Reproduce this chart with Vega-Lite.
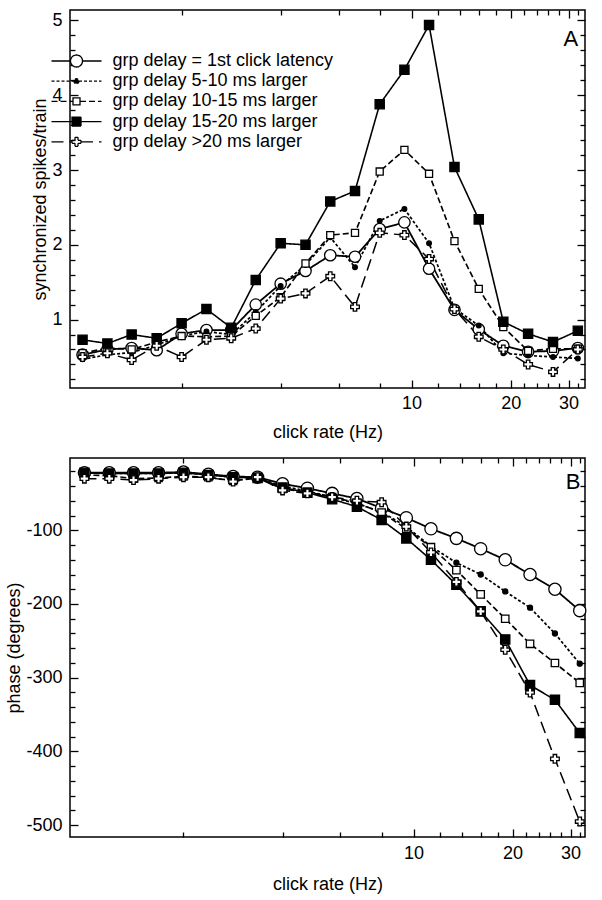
{
  "$schema": "https://vega.github.io/schema/vega-lite/v6.json",
  "padding": {"left": 5, "top": 8, "right": 16, "bottom": 2},
  "spacing": 14,
  "datasets": {
    "sync": [
      {"series":"grp delay = 1st click latency","rate":1,"value":0.53},{"series":"grp delay = 1st click latency","rate":1.19,"value":0.60},{"series":"grp delay = 1st click latency","rate":1.41,"value":0.62},{"series":"grp delay = 1st click latency","rate":1.68,"value":0.59},{"series":"grp delay = 1st click latency","rate":2,"value":0.81},{"series":"grp delay = 1st click latency","rate":2.38,"value":0.86},{"series":"grp delay = 1st click latency","rate":2.83,"value":0.86},{"series":"grp delay = 1st click latency","rate":3.36,"value":1.20},{"series":"grp delay = 1st click latency","rate":4,"value":1.48},{"series":"grp delay = 1st click latency","rate":4.76,"value":1.65},{"series":"grp delay = 1st click latency","rate":5.66,"value":1.86},{"series":"grp delay = 1st click latency","rate":6.73,"value":1.84},{"series":"grp delay = 1st click latency","rate":8,"value":2.21},{"series":"grp delay = 1st click latency","rate":9.51,"value":2.30},{"series":"grp delay = 1st click latency","rate":11.3,"value":1.68},{"series":"grp delay = 1st click latency","rate":13.5,"value":1.13},{"series":"grp delay = 1st click latency","rate":16,"value":0.87},{"series":"grp delay = 1st click latency","rate":19,"value":0.65},{"series":"grp delay = 1st click latency","rate":22.6,"value":0.57},{"series":"grp delay = 1st click latency","rate":26.9,"value":0.58},{"series":"grp delay = 1st click latency","rate":32,"value":0.62},
      {"series":"grp delay 5-10 ms larger","rate":1,"value":0.47},{"series":"grp delay 5-10 ms larger","rate":1.19,"value":0.53},{"series":"grp delay 5-10 ms larger","rate":1.41,"value":0.56},{"series":"grp delay 5-10 ms larger","rate":1.68,"value":0.66},{"series":"grp delay 5-10 ms larger","rate":2,"value":0.78},{"series":"grp delay 5-10 ms larger","rate":2.38,"value":0.84},{"series":"grp delay 5-10 ms larger","rate":2.83,"value":0.80},{"series":"grp delay 5-10 ms larger","rate":3.36,"value":1.10},{"series":"grp delay 5-10 ms larger","rate":4,"value":1.45},{"series":"grp delay 5-10 ms larger","rate":4.76,"value":1.73},{"series":"grp delay 5-10 ms larger","rate":5.66,"value":2.10},{"series":"grp delay 5-10 ms larger","rate":6.73,"value":1.70},{"series":"grp delay 5-10 ms larger","rate":8,"value":2.32},{"series":"grp delay 5-10 ms larger","rate":9.51,"value":2.48},{"series":"grp delay 5-10 ms larger","rate":11.3,"value":2.02},{"series":"grp delay 5-10 ms larger","rate":13.5,"value":1.15},{"series":"grp delay 5-10 ms larger","rate":16,"value":0.92},{"series":"grp delay 5-10 ms larger","rate":19,"value":0.55},{"series":"grp delay 5-10 ms larger","rate":22.6,"value":0.52},{"series":"grp delay 5-10 ms larger","rate":26.9,"value":0.50},{"series":"grp delay 5-10 ms larger","rate":32,"value":0.48},
      {"series":"grp delay 10-15 ms larger","rate":1,"value":0.55},{"series":"grp delay 10-15 ms larger","rate":1.19,"value":0.62},{"series":"grp delay 10-15 ms larger","rate":1.41,"value":0.60},{"series":"grp delay 10-15 ms larger","rate":1.68,"value":0.70},{"series":"grp delay 10-15 ms larger","rate":2,"value":0.78},{"series":"grp delay 10-15 ms larger","rate":2.38,"value":0.77},{"series":"grp delay 10-15 ms larger","rate":2.83,"value":0.78},{"series":"grp delay 10-15 ms larger","rate":3.36,"value":1.05},{"series":"grp delay 10-15 ms larger","rate":4,"value":1.30},{"series":"grp delay 10-15 ms larger","rate":4.76,"value":1.75},{"series":"grp delay 10-15 ms larger","rate":5.66,"value":2.13},{"series":"grp delay 10-15 ms larger","rate":6.73,"value":2.16},{"series":"grp delay 10-15 ms larger","rate":8,"value":2.98},{"series":"grp delay 10-15 ms larger","rate":9.51,"value":3.27},{"series":"grp delay 10-15 ms larger","rate":11.3,"value":2.95},{"series":"grp delay 10-15 ms larger","rate":13.5,"value":2.05},{"series":"grp delay 10-15 ms larger","rate":16,"value":1.41},{"series":"grp delay 10-15 ms larger","rate":19,"value":0.90},{"series":"grp delay 10-15 ms larger","rate":22.6,"value":0.58},{"series":"grp delay 10-15 ms larger","rate":26.9,"value":0.61},{"series":"grp delay 10-15 ms larger","rate":32,"value":0.61},
      {"series":"grp delay 15-20 ms larger","rate":1,"value":0.73},{"series":"grp delay 15-20 ms larger","rate":1.19,"value":0.68},{"series":"grp delay 15-20 ms larger","rate":1.41,"value":0.80},{"series":"grp delay 15-20 ms larger","rate":1.68,"value":0.75},{"series":"grp delay 15-20 ms larger","rate":2,"value":0.95},{"series":"grp delay 15-20 ms larger","rate":2.38,"value":1.14},{"series":"grp delay 15-20 ms larger","rate":2.83,"value":0.89},{"series":"grp delay 15-20 ms larger","rate":3.36,"value":1.53},{"series":"grp delay 15-20 ms larger","rate":4,"value":2.02},{"series":"grp delay 15-20 ms larger","rate":4.76,"value":2.00},{"series":"grp delay 15-20 ms larger","rate":5.66,"value":2.58},{"series":"grp delay 15-20 ms larger","rate":6.73,"value":2.72},{"series":"grp delay 15-20 ms larger","rate":8,"value":3.88},{"series":"grp delay 15-20 ms larger","rate":9.51,"value":4.34},{"series":"grp delay 15-20 ms larger","rate":11.3,"value":4.94},{"series":"grp delay 15-20 ms larger","rate":13.5,"value":3.04},{"series":"grp delay 15-20 ms larger","rate":16,"value":2.34},{"series":"grp delay 15-20 ms larger","rate":19,"value":0.97},{"series":"grp delay 15-20 ms larger","rate":22.6,"value":0.81},{"series":"grp delay 15-20 ms larger","rate":26.9,"value":0.70},{"series":"grp delay 15-20 ms larger","rate":32,"value":0.85},
      {"series":"grp delay >20 ms larger","rate":1,"value":0.50},{"series":"grp delay >20 ms larger","rate":1.19,"value":0.55},{"series":"grp delay >20 ms larger","rate":1.41,"value":0.46},{"series":"grp delay >20 ms larger","rate":1.68,"value":0.65},{"series":"grp delay >20 ms larger","rate":2,"value":0.50},{"series":"grp delay >20 ms larger","rate":2.38,"value":0.73},{"series":"grp delay >20 ms larger","rate":2.83,"value":0.75},{"series":"grp delay >20 ms larger","rate":3.36,"value":0.88},{"series":"grp delay >20 ms larger","rate":4,"value":1.28},{"series":"grp delay >20 ms larger","rate":4.76,"value":1.35},{"series":"grp delay >20 ms larger","rate":5.66,"value":1.58},{"series":"grp delay >20 ms larger","rate":6.73,"value":1.17},{"series":"grp delay >20 ms larger","rate":8,"value":2.16},{"series":"grp delay >20 ms larger","rate":9.51,"value":2.13},{"series":"grp delay >20 ms larger","rate":11.3,"value":1.81},{"series":"grp delay >20 ms larger","rate":13.5,"value":1.14},{"series":"grp delay >20 ms larger","rate":16,"value":0.77},{"series":"grp delay >20 ms larger","rate":19,"value":0.60},{"series":"grp delay >20 ms larger","rate":22.6,"value":0.40},{"series":"grp delay >20 ms larger","rate":26.9,"value":0.30},{"series":"grp delay >20 ms larger","rate":32,"value":0.60}
    ],
    "phase": [
      {"series":"grp delay = 1st click latency","rate":1,"value":-22},{"series":"grp delay = 1st click latency","rate":1.19,"value":-22},{"series":"grp delay = 1st click latency","rate":1.41,"value":-22},{"series":"grp delay = 1st click latency","rate":1.68,"value":-22},{"series":"grp delay = 1st click latency","rate":2,"value":-21},{"series":"grp delay = 1st click latency","rate":2.38,"value":-24},{"series":"grp delay = 1st click latency","rate":2.83,"value":-27},{"series":"grp delay = 1st click latency","rate":3.36,"value":-28},{"series":"grp delay = 1st click latency","rate":4,"value":-37},{"series":"grp delay = 1st click latency","rate":4.76,"value":-43},{"series":"grp delay = 1st click latency","rate":5.66,"value":-50},{"series":"grp delay = 1st click latency","rate":6.73,"value":-57},{"series":"grp delay = 1st click latency","rate":8,"value":-70},{"series":"grp delay = 1st click latency","rate":9.51,"value":-83},{"series":"grp delay = 1st click latency","rate":11.3,"value":-98},{"series":"grp delay = 1st click latency","rate":13.5,"value":-111},{"series":"grp delay = 1st click latency","rate":16,"value":-125},{"series":"grp delay = 1st click latency","rate":19,"value":-140},{"series":"grp delay = 1st click latency","rate":22.6,"value":-160},{"series":"grp delay = 1st click latency","rate":26.9,"value":-180},{"series":"grp delay = 1st click latency","rate":32,"value":-209},
      {"series":"grp delay 5-10 ms larger","rate":1,"value":-22},{"series":"grp delay 5-10 ms larger","rate":1.19,"value":-23},{"series":"grp delay 5-10 ms larger","rate":1.41,"value":-23},{"series":"grp delay 5-10 ms larger","rate":1.68,"value":-23},{"series":"grp delay 5-10 ms larger","rate":2,"value":-22},{"series":"grp delay 5-10 ms larger","rate":2.38,"value":-25},{"series":"grp delay 5-10 ms larger","rate":2.83,"value":-28},{"series":"grp delay 5-10 ms larger","rate":3.36,"value":-29},{"series":"grp delay 5-10 ms larger","rate":4,"value":-40},{"series":"grp delay 5-10 ms larger","rate":4.76,"value":-47},{"series":"grp delay 5-10 ms larger","rate":5.66,"value":-55},{"series":"grp delay 5-10 ms larger","rate":6.73,"value":-64},{"series":"grp delay 5-10 ms larger","rate":8,"value":-75},{"series":"grp delay 5-10 ms larger","rate":9.51,"value":-95},{"series":"grp delay 5-10 ms larger","rate":11.3,"value":-122},{"series":"grp delay 5-10 ms larger","rate":13.5,"value":-144},{"series":"grp delay 5-10 ms larger","rate":16,"value":-160},{"series":"grp delay 5-10 ms larger","rate":19,"value":-183},{"series":"grp delay 5-10 ms larger","rate":22.6,"value":-205},{"series":"grp delay 5-10 ms larger","rate":26.9,"value":-240},{"series":"grp delay 5-10 ms larger","rate":32,"value":-281},
      {"series":"grp delay 10-15 ms larger","rate":1,"value":-25},{"series":"grp delay 10-15 ms larger","rate":1.19,"value":-26},{"series":"grp delay 10-15 ms larger","rate":1.41,"value":-30},{"series":"grp delay 10-15 ms larger","rate":1.68,"value":-29},{"series":"grp delay 10-15 ms larger","rate":2,"value":-27},{"series":"grp delay 10-15 ms larger","rate":2.38,"value":-28},{"series":"grp delay 10-15 ms larger","rate":2.83,"value":-33},{"series":"grp delay 10-15 ms larger","rate":3.36,"value":-29},{"series":"grp delay 10-15 ms larger","rate":4,"value":-44},{"series":"grp delay 10-15 ms larger","rate":4.76,"value":-48},{"series":"grp delay 10-15 ms larger","rate":5.66,"value":-55},{"series":"grp delay 10-15 ms larger","rate":6.73,"value":-63},{"series":"grp delay 10-15 ms larger","rate":8,"value":-76},{"series":"grp delay 10-15 ms larger","rate":9.51,"value":-98},{"series":"grp delay 10-15 ms larger","rate":11.3,"value":-123},{"series":"grp delay 10-15 ms larger","rate":13.5,"value":-154},{"series":"grp delay 10-15 ms larger","rate":16,"value":-187},{"series":"grp delay 10-15 ms larger","rate":19,"value":-220},{"series":"grp delay 10-15 ms larger","rate":22.6,"value":-254},{"series":"grp delay 10-15 ms larger","rate":26.9,"value":-280},{"series":"grp delay 10-15 ms larger","rate":32,"value":-307},
      {"series":"grp delay 15-20 ms larger","rate":1,"value":-22},{"series":"grp delay 15-20 ms larger","rate":1.19,"value":-23},{"series":"grp delay 15-20 ms larger","rate":1.41,"value":-23},{"series":"grp delay 15-20 ms larger","rate":1.68,"value":-23},{"series":"grp delay 15-20 ms larger","rate":2,"value":-22},{"series":"grp delay 15-20 ms larger","rate":2.38,"value":-25},{"series":"grp delay 15-20 ms larger","rate":2.83,"value":-28},{"series":"grp delay 15-20 ms larger","rate":3.36,"value":-29},{"series":"grp delay 15-20 ms larger","rate":4,"value":-42},{"series":"grp delay 15-20 ms larger","rate":4.76,"value":-49},{"series":"grp delay 15-20 ms larger","rate":5.66,"value":-58},{"series":"grp delay 15-20 ms larger","rate":6.73,"value":-68},{"series":"grp delay 15-20 ms larger","rate":8,"value":-86},{"series":"grp delay 15-20 ms larger","rate":9.51,"value":-111},{"series":"grp delay 15-20 ms larger","rate":11.3,"value":-140},{"series":"grp delay 15-20 ms larger","rate":13.5,"value":-174},{"series":"grp delay 15-20 ms larger","rate":16,"value":-210},{"series":"grp delay 15-20 ms larger","rate":19,"value":-248},{"series":"grp delay 15-20 ms larger","rate":22.6,"value":-310},{"series":"grp delay 15-20 ms larger","rate":26.9,"value":-330},{"series":"grp delay 15-20 ms larger","rate":32,"value":-375},
      {"series":"grp delay >20 ms larger","rate":1,"value":-30},{"series":"grp delay >20 ms larger","rate":1.19,"value":-30},{"series":"grp delay >20 ms larger","rate":1.41,"value":-32},{"series":"grp delay >20 ms larger","rate":1.68,"value":-30},{"series":"grp delay >20 ms larger","rate":2,"value":-28},{"series":"grp delay >20 ms larger","rate":2.38,"value":-28},{"series":"grp delay >20 ms larger","rate":2.83,"value":-34},{"series":"grp delay >20 ms larger","rate":3.36,"value":-28},{"series":"grp delay >20 ms larger","rate":4,"value":-46},{"series":"grp delay >20 ms larger","rate":4.76,"value":-50},{"series":"grp delay >20 ms larger","rate":5.66,"value":-55},{"series":"grp delay >20 ms larger","rate":6.73,"value":-60},{"series":"grp delay >20 ms larger","rate":8,"value":-62},{"series":"grp delay >20 ms larger","rate":9.51,"value":-95},{"series":"grp delay >20 ms larger","rate":11.3,"value":-130},{"series":"grp delay >20 ms larger","rate":13.5,"value":-170},{"series":"grp delay >20 ms larger","rate":16,"value":-210},{"series":"grp delay >20 ms larger","rate":19,"value":-262},{"series":"grp delay >20 ms larger","rate":22.6,"value":-320},{"series":"grp delay >20 ms larger","rate":26.9,"value":-410},{"series":"grp delay >20 ms larger","rate":32,"value":-495}
    ]
  },
  "vconcat": [
    {
      "width": 515,
      "height": 378,
      "data": {"name": "sync"},
      "title": {"text": "A", "anchor": "end", "offset": -42, "dx": -8, "fontSize": 22, "fontWeight": "normal", "color": "black"},
      "layer": [
        {
          "mark": {"type": "line", "color": "black"},
          "encoding": {
            "x": {"field": "rate", "type": "quantitative", "scale": {"type": "log", "domain": [0.916, 33.65], "nice": false},
              "axis": {"orient": "top", "values": [2,4,6,8,10,12,14,16,18,20,22,24,26,28,30,32], "labels": false, "title": null,
                "tickSize": {"condition": {"test": "datum.value == 10 || datum.value == 20 || datum.value == 30", "value": -8}, "value": -5}}},
            "y": {"field": "value", "type": "quantitative", "scale": {"domain": [0.085, 5.14], "nice": false, "zero": false},
              "axis": {"orient": "right", "values": [0.2,0.4,0.6,0.8,1,1.2,1.4,1.6,1.8,2,2.2,2.4,2.6,2.8,3,3.2,3.4,3.6,3.8,4,4.2,4.4,4.6,4.8,5], "labels": false, "title": null,
                "tickSize": {"condition": {"test": "datum.value == 1 || datum.value == 2 || datum.value == 3 || datum.value == 4 || datum.value == 5", "value": -8}, "value": -5}}},
            "strokeDash": {"field": "series", "type": "nominal",
              "scale": {"domain": ["grp delay = 1st click latency","grp delay 5-10 ms larger","grp delay 10-15 ms larger","grp delay 15-20 ms larger","grp delay >20 ms larger"],
                "range": [[1,0],[3,2],[6,3],[1,0],[12,6]]},
              "legend": {
                "orient": "none", "legendX": -2.5, "legendY": 42, "title": null, "padding": 0,
                "labelFontSize": 18, "labelFont": "Liberation Sans", "labelColor": "black", "labelLimit": 0,
                "symbolSize": 100, "symbolStrokeWidth": 1.3, "symbolStrokeColor": "black", "labelOffset": 27, "rowPadding": 2.2,
                "encode": {"symbols": {"update": {
                  "shape": {"signal": "datum.index == 0 ? 'M-5,0L-1.2,0M1.2,0L5,0M1.2,0A1.2,1.2,0,1,1,-1.2,0A1.2,1.2,0,1,1,1.2,0Z' : datum.index == 1 ? 'M-5,0L-0.5,0M0.5,0L5,0M0.5,0A0.5,0.5,0,1,1,-0.5,0A0.5,0.5,0,1,1,0.5,0Z' : datum.index == 2 ? 'M-5,0L-0.7,0M0.7,0L5,0M-0.82,-0.7L0,-0.7M0,-0.7L0.82,-0.7M0.7,-0.82L0.7,0M0.7,0L0.7,0.82M0.82,0.7L0,0.7M0,0.7L-0.82,0.7M-0.7,0.82L-0.7,0M-0.7,0L-0.7,-0.82' : datum.index == 3 ? 'M-5,0L-0.9,0M0.9,0L5,0M-0.9,-0.9L0.9,-0.9L0.9,0.9L-0.9,0.9Z' : 'M-5,0L-0.9,0M0.9,0L5,0M-0.3,-0.9L0.3,-0.9M0.3,-0.9L0.3,-0.3M0.3,-0.3L0.9,-0.3M0.9,-0.3L0.9,0.3M0.9,0.3L0.3,0.3M0.3,0.3L0.3,0.9M0.3,0.9L-0.3,0.9M-0.3,0.9L-0.3,0.3M-0.3,0.3L-0.9,0.3M-0.9,0.3L-0.9,-0.3M-0.9,-0.3L-0.3,-0.3M-0.3,-0.3L-0.3,-0.9'"},
                  "size": {"value": 100},
                  "fill": {"signal": "datum.index == 1 || datum.index == 3 ? 'black' : 'white'"},
                  "stroke": {"value": "black"},
                  "strokeWidth": {"value": 1.3},
                  "opacity": {"value": 1}
                }}}
              }},
            "strokeWidth": {"field": "series", "type": "nominal",
              "scale": {"domain": ["grp delay >20 ms larger","grp delay 15-20 ms larger","grp delay 10-15 ms larger","grp delay 5-10 ms larger","grp delay = 1st click latency"],
                "range": [1.5, 1.8, 1.4, 1.3, 1.5]}, "legend": null}
          }
        },
        {
          "mark": {"type": "point", "filled": true, "stroke": "black", "strokeWidth": 1.3, "opacity": 1},
          "encoding": {
            "x": {"field": "rate", "type": "quantitative", "scale": {"type": "log", "domain": [0.916, 33.65], "nice": false},
              "axis": {"orient": "bottom", "values": [2,4,6,8,10,12,14,16,18,20,22,24,26,28,30,32], "title": "click rate (Hz)",
                "labelExpr": "datum.value == 10 || datum.value == 20 || datum.value == 30 ? '' + datum.value : ''",
                "labelPadding": 14, "titlePadding": 8, "labelOverlap": false,
                "tickSize": {"condition": {"test": "datum.value == 10 || datum.value == 20 || datum.value == 30", "value": -8}, "value": -5}}},
            "y": {"field": "value", "type": "quantitative", "scale": {"domain": [0.085, 5.14], "nice": false, "zero": false},
              "axis": {"orient": "left", "offset": 0, "labelAlign": "right", "values": [0.2,0.4,0.6,0.8,1,1.2,1.4,1.6,1.8,2,2.2,2.4,2.6,2.8,3,3.2,3.4,3.6,3.8,4,4.2,4.4,4.6,4.8,5], "title": "synchronized spikes/train",
                "labelExpr": "datum.value == 1 || datum.value == 2 || datum.value == 3 || datum.value == 4 || datum.value == 5 ? '' + datum.value : ''",
                "labelPadding": 16, "titlePadding": 2, "labelOverlap": false,
                "tickSize": {"condition": {"test": "datum.value == 1 || datum.value == 2 || datum.value == 3 || datum.value == 4 || datum.value == 5", "value": -8}, "value": -5}}},
            "shape": {"field": "series", "type": "nominal",
              "scale": {"domain": ["grp delay >20 ms larger","grp delay 15-20 ms larger","grp delay 10-15 ms larger","grp delay 5-10 ms larger","grp delay = 1st click latency"],
                "range": ["cross","square","square","circle","circle"]}, "legend": null},
            "fill": {"field": "series", "type": "nominal",
              "scale": {"domain": ["grp delay >20 ms larger","grp delay 15-20 ms larger","grp delay 10-15 ms larger","grp delay 5-10 ms larger","grp delay = 1st click latency"],
                "range": ["white","black","white","black","white"]}, "legend": null},
            "size": {"field": "series", "type": "nominal",
              "scale": {"type": "ordinal", "domain": ["grp delay >20 ms larger","grp delay 15-20 ms larger","grp delay 10-15 ms larger","grp delay 5-10 ms larger","grp delay = 1st click latency"],
                "range": [75, 85, 50, 22, 130]}, "legend": null}
          }
        }
      ],
      "resolve": {"axis": {"x": "independent", "y": "independent"}}
    },
    {
      "width": 515,
      "height": 379,
      "data": {"name": "phase"},
      "title": {"text": "B", "anchor": "end", "offset": -37, "dx": -8, "fontSize": 22, "fontWeight": "normal", "color": "black"},
      "layer": [
        {
          "mark": {"type": "line", "color": "black"},
          "encoding": {
            "x": {"field": "rate", "type": "quantitative", "scale": {"type": "log", "domain": [0.904, 33.2], "nice": false},
              "axis": {"orient": "top", "values": [2,4,6,8,10,12,14,16,18,20,22,24,26,28,30,32], "labels": false, "title": null,
                "tickSize": {"condition": {"test": "datum.value == 10 || datum.value == 20 || datum.value == 30", "value": -8}, "value": -5}}},
            "y": {"field": "value", "type": "quantitative", "scale": {"domain": [-516, -2], "nice": false, "zero": false},
              "axis": {"orient": "right", "values": [-500,-480,-460,-440,-420,-400,-380,-360,-340,-320,-300,-280,-260,-240,-220,-200,-180,-160,-140,-120,-100,-80,-60,-40,-20], "labels": false, "title": null,
                "tickSize": {"condition": {"test": "datum.value % 100 == 0", "value": -8}, "value": -5}}},
            "strokeDash": {"field": "series", "type": "nominal",
              "scale": {"domain": ["grp delay = 1st click latency","grp delay 5-10 ms larger","grp delay 10-15 ms larger","grp delay 15-20 ms larger","grp delay >20 ms larger"],
                "range": [[1,0],[3,2],[6,3],[1,0],[12,6]]}, "legend": null},
            "strokeWidth": {"field": "series", "type": "nominal",
              "scale": {"domain": ["grp delay >20 ms larger","grp delay 15-20 ms larger","grp delay 10-15 ms larger","grp delay 5-10 ms larger","grp delay = 1st click latency"],
                "range": [1.5, 1.8, 1.4, 1.3, 1.5]}, "legend": null}
          }
        },
        {
          "mark": {"type": "point", "filled": true, "stroke": "black", "strokeWidth": 1.3, "opacity": 1},
          "encoding": {
            "x": {"field": "rate", "type": "quantitative", "scale": {"type": "log", "domain": [0.904, 33.2], "nice": false},
              "axis": {"orient": "bottom", "values": [2,4,6,8,10,12,14,16,18,20,22,24,26,28,30,32], "title": "click rate (Hz)",
                "labelExpr": "datum.value == 10 || datum.value == 20 || datum.value == 30 ? '' + datum.value : ''",
                "labelPadding": 15.5, "titlePadding": 10, "labelOverlap": false,
                "tickSize": {"condition": {"test": "datum.value == 10 || datum.value == 20 || datum.value == 30", "value": -8}, "value": -5}}},
            "y": {"field": "value", "type": "quantitative", "scale": {"domain": [-516, -2], "nice": false, "zero": false},
              "axis": {"orient": "left", "offset": 0, "labelAlign": "right", "values": [-500,-480,-460,-440,-420,-400,-380,-360,-340,-320,-300,-280,-260,-240,-220,-200,-180,-160,-140,-120,-100,-80,-60,-40,-20], "title": "phase (degrees)",
                "labelExpr": "datum.value % 100 == 0 ? '' + datum.value : ''",
                "labelPadding": 16, "titlePadding": 2, "labelOverlap": false,
                "tickSize": {"condition": {"test": "datum.value % 100 == 0", "value": -8}, "value": -5}}},
            "shape": {"field": "series", "type": "nominal",
              "scale": {"domain": ["grp delay >20 ms larger","grp delay 15-20 ms larger","grp delay 10-15 ms larger","grp delay 5-10 ms larger","grp delay = 1st click latency"],
                "range": ["cross","square","square","circle","circle"]}, "legend": null},
            "fill": {"field": "series", "type": "nominal",
              "scale": {"domain": ["grp delay >20 ms larger","grp delay 15-20 ms larger","grp delay 10-15 ms larger","grp delay 5-10 ms larger","grp delay = 1st click latency"],
                "range": ["white","black","white","black","white"]}, "legend": null},
            "size": {"field": "series", "type": "nominal",
              "scale": {"type": "ordinal", "domain": ["grp delay >20 ms larger","grp delay 15-20 ms larger","grp delay 10-15 ms larger","grp delay 5-10 ms larger","grp delay = 1st click latency"],
                "range": [75, 85, 55, 25, 150]}, "legend": null}
          }
        }
      ],
      "resolve": {"axis": {"x": "independent", "y": "independent"}}
    }
  ],
  "resolve": {"scale": {"strokeDash": "independent", "shape": "independent", "fill": "independent", "size": "independent", "strokeWidth": "independent"}},
  "config": {
    "font": "Liberation Sans",
    "view": {"stroke": "black", "strokeWidth": 1.5},
    "axis": {"grid": false, "domain": false, "tickColor": "black", "tickWidth": 1.3, "labelColor": "black", "labelFontSize": 18, "labelFont": "Liberation Sans", "titleFont": "Liberation Sans", "titleFontSize": 18, "titleFontWeight": "normal", "titleColor": "black"}
  }
}
